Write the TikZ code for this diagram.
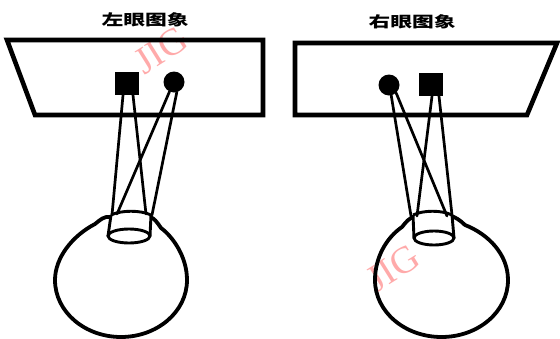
\documentclass[tikz,border=0pt]{standalone}
\usepackage{fontspec}
\setmainfont{Liberation Serif}
\newfontfamily\cjk{Noto Sans CJK SC}
\definecolor{wmpink}{RGB}{255,170,170}
\newcommand{\widecap}[1]{\scalebox{1.45}[1]{\cjk\bfseries\fontsize{15}{15}\selectfont #1}}
\begin{document}
\begin{tikzpicture}[x=1pt,y=-1pt,
  screen/.style={line width=4.6pt, line join=miter},
  ball/.style={line width=3.8pt, line join=round},
  lensline/.style={line width=2.9pt},
  ray/.style={line width=2.7pt, line cap=round},
  sq/.style={draw=none, fill=black, minimum width=24pt, minimum height=23pt, inner sep=0pt},
  dot/.style={circle, draw=none, fill=black, minimum size=21pt, inner sep=0pt},
  lbl/.style={inner sep=0pt},
  wm/.style={text=wmpink, font=\fontsize{38}{38}\selectfont, rotate=32, inner sep=0pt}
]
\useasboundingbox (0,0) rectangle (560,338);

% faint stamps
\node[wm] (wmA) at (161,50) {JIG};
\node[wm] (wmB) at (393,268) {JIG};

% captions
\node[lbl] (capL) at (145,20) {\widecap{左眼图象}};
\node[lbl] (capR) at (412,22) {\widecap{右眼图象}};

% screens
\draw[screen] (7,40) -- (263,40) -- (263,115) -- (35,115) -- cycle;
\draw[screen] (295,43) -- (557,43) -- (527,115) -- (295,115) -- cycle;

% images on the screens
\node[sq]  (lsq) at (127,83.5) {};
\node[dot] (lci) at (174,82) {};
\node[dot] (rci) at (389,85) {};
\node[sq]  (rsq) at (431,84.5) {};

% left eyeball
\draw[ball] (110,217) .. controls (104,216) and (100,220) .. (95,224)
  .. controls (72,236) and (55,258) .. (55,280)
  .. controls (55,312) and (85,337) .. (121,337)
  .. controls (157,337) and (187,312) .. (187,280)
  .. controls (187,256) and (172,236) .. (161,228)
  .. controls (157,222) and (154,218) .. (150,217);
% left lens
\fill[white] (111,215) .. controls (121,210) and (141,210) .. (151,215) -- (150,236) -- (108,236) -- cycle;
\fill[white] (129,236) ellipse [x radius=21, y radius=7];
\draw[lensline] (111,215) .. controls (121,210) and (141,210) .. (151,215);
\draw[lensline] (111,215) -- (108,236);
\draw[lensline] (151,215) -- (150,236);
\draw[lensline] (129,236) ellipse [x radius=21, y radius=7];

% right eyeball
\draw[ball] (414,217) .. controls (409,218) and (406,222) .. (402,227)
  .. controls (386,238) and (375,258) .. (375,280)
  .. controls (375,312) and (405,337) .. (441.5,337)
  .. controls (478,337) and (508,312) .. (508,280)
  .. controls (508,254) and (488,234) .. (465,225)
  .. controls (460,220) and (455,217) .. (451,216);
% right lens
\fill[white] (413,215) .. controls (423,210) and (442,210) .. (452,215) -- (454,238) -- (414,238) -- cycle;
\fill[white] (434,238) ellipse [x radius=20, y radius=7];
\draw[lensline] (413,215) .. controls (423,210) and (442,210) .. (452,215);
\draw[lensline] (413,215) -- (414,238);
\draw[lensline] (452,215) -- (454,238);
\draw[lensline] (434,238) ellipse [x radius=20, y radius=7];

% points where the rays meet the lenses
\coordinate (lA) at (112,215);
\coordinate (lB) at (117,214);
\coordinate (lC) at (146,214);
\coordinate (lD) at (152,215);
\coordinate (rA) at (411,216);
\coordinate (rB) at (417,216);
\coordinate (rC) at (447,216);
\coordinate (rD) at (452,215);

% rays, left eye
\draw[ray] ([xshift=-4pt]lsq.south) -- (lA);
\draw[ray] ([xshift=6pt]lsq.south) -- (lC);
\draw[ray] (lci.-115) -- (lB);
\draw[ray] (lci.-75) -- (lD);

% rays, right eye
\draw[ray] (rci.-78) -- (rA);
\draw[ray] (rci.-48) -- (rC);
\draw[ray] ([xshift=1pt]rsq.south) -- (rB);
\draw[ray] ([xshift=8pt]rsq.south) -- (rD);
\end{tikzpicture}
\end{document}
